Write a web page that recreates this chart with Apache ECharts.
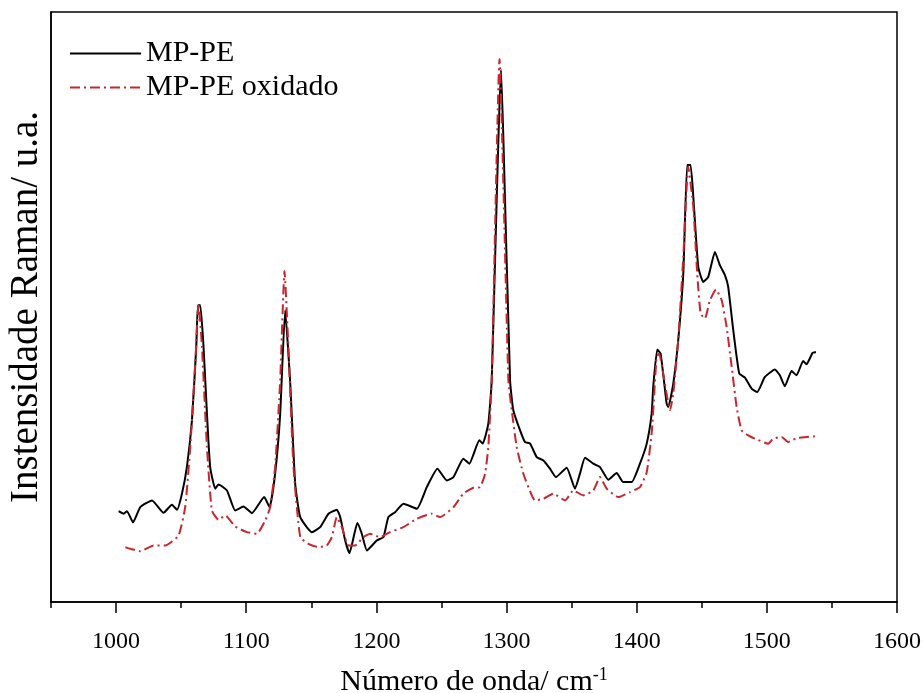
<!DOCTYPE html>
<html>
<head>
<meta charset="utf-8">
<script src="https://cdn.jsdelivr.net/npm/echarts@6/dist/echarts.min.js"></script>
<style>html,body{margin:0;padding:0;background:#fff}#c{width:923px;height:693px}</style>
</head>
<body>
<div id="c"></div>
<script>
// Wavenumbers (cm-1) and Raman intensities (a.u.)
const seriesNames = ['MP-PE', 'MP-PE oxidado'];
const xTickLabels = [1000, 1100, 1200, 1300, 1400, 1500, 1600];
const xMinorTicks = [950, 1050, 1150, 1250, 1350, 1450, 1550];

const mpWn = [1002,1005.8,1008.4,1013,1018.6,1027.6,1036.5,1042.9,1046.8,1050.6,1054.4,1058.3,1061.6,1062.9,1064.7,1067.2,1069.8,1072.3,1076.2,1078.7,1085.2,1091.5,1097.9,1104.4,1113.8,1117.9,1122.2,1126.1,1129.9,1133.8,1137.6,1141.5,1150.4,1156.8,1163.2,1169.6,1172.2,1176,1179.3,1185.4,1188.8,1192.7,1200.3,1205.4,1209.2,1214.4,1220.8,1231.1,1238.7,1246.9,1254.1,1259.2,1266.8,1271.4,1279.1,1281.7,1286,1288.6,1295.8,1297.6,1302.7,1305.2,1310.4,1314.2,1318.1,1323.2,1328.3,1333.4,1338,1346.2,1352.6,1356.4,1360.3,1366.7,1371.8,1378.2,1384.6,1389.7,1396.1,1402.5,1407.7,1411.5,1412.7,1415.8,1418.4,1423,1424.3,1428.1,1431.9,1435.8,1438.8,1441.4,1444,1447.3,1451.1,1455,1460.1,1463.9,1467.8,1470.3,1474.2,1478.8,1483.2,1488.3,1492.6,1498.5,1506.2,1510,1513.8,1519,1522.8,1527.9,1530.5,1535.1,1537.7];
const mpI = [154,149.6,154,134.9,160.8,172.2,151.3,164.9,156.4,183.6,228.7,307.9,432.2,503,503,432.2,319.8,228.7,192,199.3,189.1,155.2,162,150.6,177.8,160.8,217.5,319.3,494.5,370.7,201,143.9,118.4,126.9,149.6,156.4,143.9,104.3,82.8,133.7,115.7,87.4,104.3,109.9,143.9,152.3,166.6,158.1,194.7,226,206.1,211.7,242.9,234.4,274,268.4,302.3,375.8,901.6,782.9,375.8,324.9,290.9,271.1,268.4,245.6,240,226,211.7,227.7,192,217.5,244.6,234.4,228.7,207.3,218.5,203.2,203.2,234.4,268.4,319.3,364.4,427.8,421,336.2,330.5,370.2,443.6,556.8,740.5,740.5,669.7,568,542.5,551,593.4,570.8,553.9,534,460.6,387.1,380.3,361.7,355.9,381.4,393.9,384.2,365.6,391.5,384.2,408.5,402.9,422.1,423.8];

const oxWn = [1007.1,1010.9,1018.6,1028.8,1037.8,1048,1053.1,1057,1060.8,1063.4,1066,1069.8,1073.6,1078.7,1083.9,1091.5,1100.5,1108.2,1114.6,1118.4,1122.2,1126.1,1129.4,1132.5,1136.3,1141.5,1147.8,1155.5,1161.9,1165.8,1169.6,1173.5,1178.5,1183.7,1190,1195.2,1202.9,1210.5,1220.8,1231.1,1242.6,1249,1259.2,1266.8,1274.5,1279.7,1283.5,1286,1288.6,1294.6,1301.4,1304,1307.8,1312.9,1319.4,1321.9,1328.3,1336,1345,1351.3,1359,1366.7,1371.8,1377,1385.9,1394.9,1402.5,1407.7,1411.7,1415.3,1417.3,1420.4,1425.6,1428.1,1431.9,1435.8,1439.6,1443.5,1446.5,1449.1,1452.4,1456.3,1460.9,1465.3,1469.1,1473,1476.8,1480.6,1485.7,1490.8,1501,1504.9,1511.3,1516.4,1522.8,1530.5,1536.9];
const oxI = [93,90.2,86.2,95.8,95.8,112.8,160.8,262.6,404.1,505.9,432.2,262.6,155.2,139.4,146.7,128.1,118.4,115.7,138.3,160.8,228.7,375.8,561.2,426.6,228.7,109.9,98.7,93,95.8,109.9,143.9,126.9,95.8,95.8,109.9,115.7,109.9,118.4,126.9,141.1,149.6,143.9,160.8,183.6,193.7,194.7,217.5,262.6,375.8,920.3,375.8,324.9,262.6,217.5,180.7,172.2,175.1,183.6,172.2,189.1,180.7,189.1,211.7,192,177.8,186.3,194.7,219.7,290.9,415.3,421,387.1,324.9,353.2,443.6,584.9,737.6,669.7,556.8,488.9,480.4,511.5,529.6,511.5,466.2,398.3,330.5,290.9,282.5,276.9,268.4,276.9,279.6,271.1,277.9,279.6,280.8];

const zip = (a, b) => a.map((v, i) => [v, b[i]]);
const FONT = '"Liberation Serif", "Times New Roman", serif';

const chart = echarts.init(document.getElementById('c'), null, {renderer: 'canvas'});
chart.setOption({
  animation: false,
  backgroundColor: '#fff',
  grid: {left: 51, right: 26, top: 12, bottom: 91, show: true, borderColor: '#000', borderWidth: 1.5,
    backgroundColor: 'transparent', containLabel: false, outerBoundsMode: 'none'},
  legend: {
    orient: 'vertical', left: 64, top: 33,
    itemWidth: 71, itemHeight: 14, itemGap: 3,
    itemStyle: {opacity: 0},
    textStyle: {fontFamily: FONT, fontSize: 30, color: '#000', lineHeight: 31},
    data: seriesNames
  },
  xAxis: [{
    type: 'value', min: 950, max: 1600, position: 'bottom',
    axisLine: {show: true, lineStyle: {color: '#000', width: 1.5}},
    axisTick: {show: true, inside: false, length: 11, customValues: xTickLabels, lineStyle: {color: '#000', width: 1.5}},
    axisLabel: {show: true, customValues: xTickLabels, formatter: v => String(v),
      fontFamily: FONT, fontSize: 24, color: '#000', margin: 28},
    splitLine: {show: false},
    name: 'Número de onda/ cm{sup|-1}', nameLocation: 'middle', nameGap: 64,
    nameTextStyle: {fontFamily: FONT, fontSize: 30, color: '#000',
      rich: {sup: {fontFamily: FONT, fontSize: 18, color: '#000', verticalAlign: 'top', padding: [0, 0, 14, 0]}}}
  }, {
    type: 'value', min: 950, max: 1600, position: 'bottom',
    axisLine: {show: false},
    axisTick: {show: true, length: 6, customValues: xMinorTicks, lineStyle: {color: '#000', width: 1.5}},
    axisLabel: {show: false},
    splitLine: {show: false}
  }],
  yAxis: {
    type: 'value', min: 0, max: 1000,
    axisLine: {show: true, lineStyle: {color: '#000', width: 1.5}},
    axisTick: {show: false}, axisLabel: {show: false}, splitLine: {show: false},
    name: 'Instensidade Raman/ u.a.', nameLocation: 'middle', nameGap: 5,
    nameTextStyle: {fontFamily: FONT, fontSize: 39, color: '#000'}
  },
  series: [{
    name: seriesNames[0], type: 'line', xAxisIndex: 0, data: zip(mpWn, mpI),
    showSymbol: false, symbol: 'none', smooth: 0.15,
    lineStyle: {color: '#000', width: 2}, itemStyle: {color: '#000'}, z: 3
  }, {
    name: seriesNames[1], type: 'line', xAxisIndex: 0, data: zip(oxWn, oxI),
    showSymbol: false, symbol: 'none', smooth: 0.15,
    lineStyle: {color: '#c8262c', width: 2, type: [10, 4, 2, 4]}, itemStyle: {color: '#c8262c'}, z: 4
  }]
});
</script>
</body>
</html>
